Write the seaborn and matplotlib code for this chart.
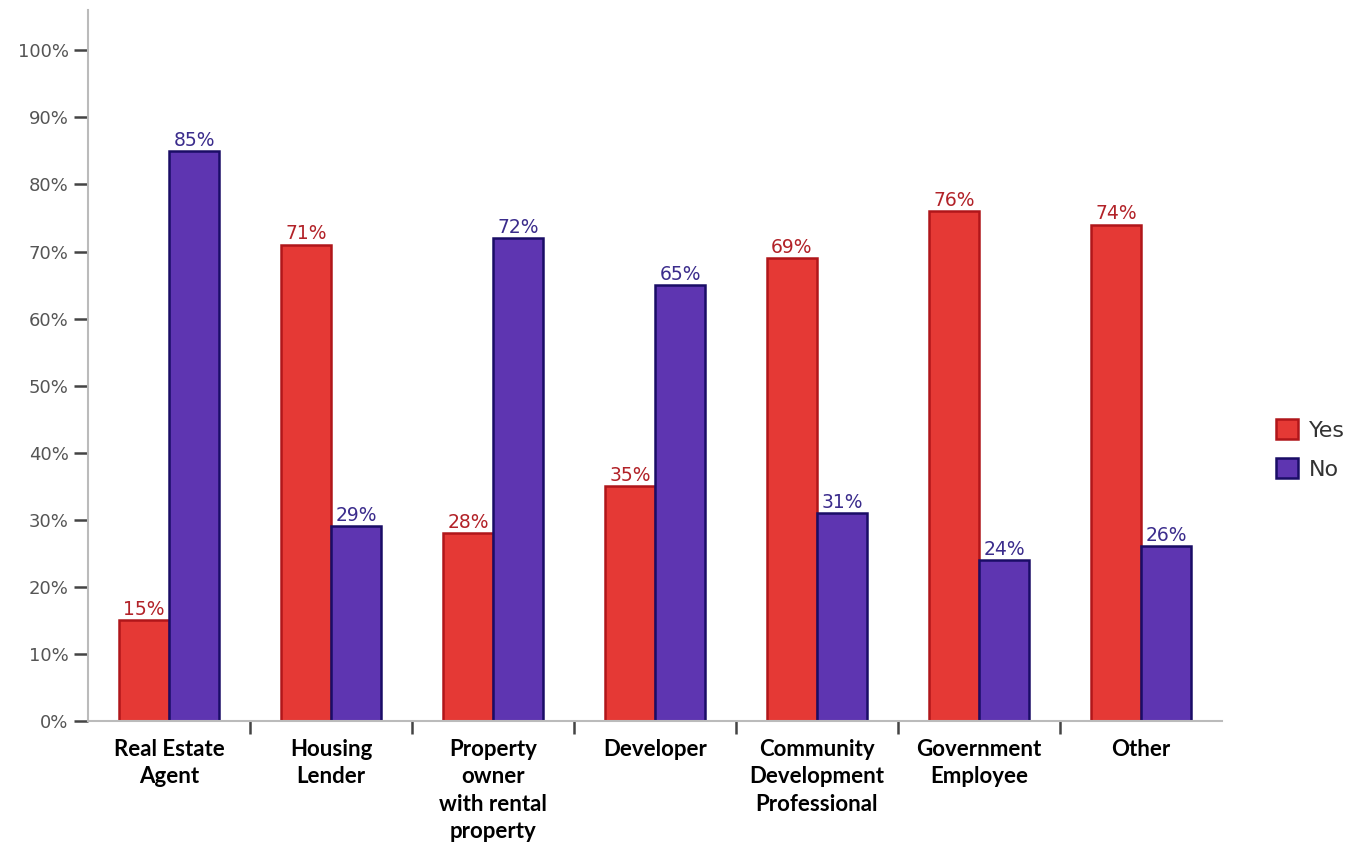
import numpy as np
import pandas as pd
import matplotlib
matplotlib.use('Agg')
import matplotlib.pyplot as plt
import seaborn as sns
from matplotlib.patches import Patch

# ── Data ─────────────────────────────────────────────────────────────────────
categories = ['Real Estate\nAgent', 'Housing\nLender',
              'Property\nowner\nwith rental\nproperty', 'Developer',
              'Community\nDevelopment\nProfessional', 'Government\nEmployee',
              'Other']
yes_vals = [15, 71, 28, 35, 69, 76, 74]
no_vals = [85, 29, 72, 65, 31, 24, 26]
series = ['Yes', 'No']

df = pd.DataFrame({
    'category': categories * 2,
    'answer': ['Yes'] * len(categories) + ['No'] * len(categories),
    'pct': yes_vals + no_vals,
})

fill = {'Yes': '#E53935', 'No': '#5E35B1'}
edge = {'Yes': '#B0161A', 'No': '#1A0D66'}
text_col = {'Yes': '#B22228', 'No': '#3B2C8C'}

sns.set_style('white')
fig = plt.figure(figsize=(13.62, 8.48), dpi=100)
ax = fig.add_axes([0.0646, 0.150, 0.8326, 0.838])

sns.barplot(data=df, x='category', y='pct', hue='answer', order=categories,
            hue_order=series, palette=fill, width=0.62, gap=0,
            saturation=1, ax=ax, legend=False)

for cont, s in zip(ax.containers, series):
    for bar in cont:
        bar.set_edgecolor(edge[s])
        bar.set_linewidth(1.8)
    ax.bar_label(cont, fmt='%d%%', padding=1, color=text_col[s],
                 fontsize=13.5, fontfamily='DejaVu Sans')

ax.set_ylim(0, 106)
ax.set_xlim(-0.5, len(categories) - 0.5)
ax.set_yticks(np.arange(0, 101, 10))
ax.set_yticklabels([f'{v}%' for v in range(0, 101, 10)],
                   fontsize=13, color='#555555')
ax.tick_params(axis='y', length=10, width=1.8, color='#444444', pad=4,
               direction='out', left=True)

ax.set_xticks(range(len(categories)))
ax.set_xticklabels(categories, fontsize=16, fontweight='bold',
                   fontfamily='Lato', color='black', linespacing=1.38, va='top')
ax.tick_params(axis='x', length=0, pad=13)
ax.set_xticks(np.arange(0.5, len(categories) - 1, 1), minor=True)
ax.tick_params(axis='x', which='minor', length=9, width=1.8,
               color='#444444', bottom=True, direction='out')
ax.set_xlabel('')
ax.set_ylabel('')

for side in ['top', 'right']:
    ax.spines[side].set_visible(False)
for side in ['left', 'bottom']:
    ax.spines[side].set_color('#BBBBBB')
    ax.spines[side].set_linewidth(1.5)

handles = [Patch(facecolor=fill[s], edgecolor=edge[s], linewidth=1.8, label=s)
           for s in series]
fig.legend(handles=handles, loc='center left', bbox_to_anchor=(0.922, 0.47),
           frameon=False, fontsize=16, handlelength=1.0, handleheight=1.0,
           labelspacing=0.8, handletextpad=0.5, labelcolor='#333333')

plt.savefig('out.png', dpi=100)
plt.close()
